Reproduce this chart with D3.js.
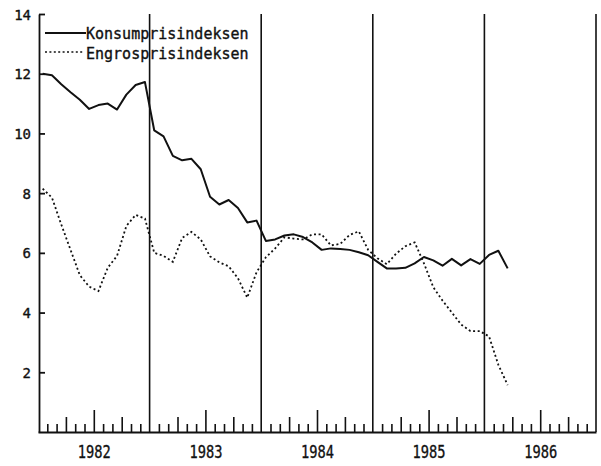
<!DOCTYPE html>
<html>
<head>
<meta charset="utf-8">
<script src="https://cdn.jsdelivr.net/npm/d3@7/dist/d3.min.js"></script>
<style>
  body { margin: 0; background: #fff; }
  text { font-family: "DejaVu Sans Mono", monospace; fill: #111; stroke: #111; stroke-width: 0.35px; }
</style>
</head>
<body>
<svg id="chart" width="601" height="466"></svg>
<script>
// Monthly twelve-month change (%), January 1982 – March 1986
const startYear = 1982;
const konsum = [
  12.0, 11.95, 11.65, 11.38, 11.13, 10.82, 10.95, 11.0, 10.8, 11.3, 11.62, 11.72,
  10.1, 9.9, 9.25, 9.1, 9.15, 8.8, 7.88, 7.62, 7.77, 7.5, 7.02, 7.08,
  6.4, 6.45, 6.58, 6.62, 6.53, 6.35, 6.1, 6.15, 6.13, 6.1, 6.02, 5.92,
  5.7, 5.48, 5.48, 5.5, 5.65, 5.86, 5.75, 5.57, 5.8, 5.58, 5.79, 5.63,
  5.93, 6.07, 5.48
];
const engros = [
  8.15, 7.85, 6.95, 6.1, 5.25, 4.87, 4.72, 5.5, 5.9, 6.9, 7.27, 7.15,
  6.0, 5.9, 5.7, 6.5, 6.7, 6.45, 5.88, 5.68, 5.55, 5.15, 4.5, 5.35,
  5.85, 6.15, 6.52, 6.48, 6.45, 6.62, 6.62, 6.25, 6.3, 6.6, 6.72, 6.1,
  5.82, 5.62, 5.97, 6.22, 6.35, 5.65, 4.85, 4.4, 4.0, 3.6, 3.38, 3.38,
  3.2, 2.25, 1.57
];
const seriesNames = ["Konsumprisindeksen", "Engrosprisindeksen"];
const yearLabels = [1982, 1983, 1984, 1985, 1986];
const yTicks = [2, 4, 6, 8, 10, 12, 14];

const svg = d3.select("#chart");
const x = d3.scaleLinear().domain([1982, 1987]).range([38, 596]);
const y = d3.scaleLinear().domain([0, 14]).range([432, 14]);

// month i plotted at the middle of its month
const t = i => startYear + (i + 0.5) / 12;

// vertical year separators
svg.append("g")
  .selectAll("line")
  .data([1983, 1984, 1985, 1986, 1987])
  .join("line")
  .attr("x1", d => x(d)).attr("x2", d => x(d))
  .attr("y1", y(14)).attr("y2", y(0))
  .attr("stroke", "#111").attr("stroke-width", 1.6);

// y axis, ticks pointing inwards
const yAxis = svg.append("g")
  .attr("transform", `translate(${x(1982) + 1},0)`)
  .call(d3.axisLeft(y).tickValues(yTicks).tickSize(-6).tickSizeOuter(0).tickPadding(8));
yAxis.selectAll("text").attr("font-size", 14).attr("dy", "0.36em")
  .style("font-family", "'DejaVu Sans Mono', monospace").attr("fill", "#111");
yAxis.selectAll("line, path").attr("stroke", "#111").attr("stroke-width", 1.8);

// x axis with monthly ticks: taller at quarters, tallest at mid-year
const monthTicks = d3.range(0, 60).filter(m => m % 12 !== 0).map(m => startYear + m / 12);
const xAxis = svg.append("g")
  .attr("transform", `translate(0,${y(0)})`)
  .call(d3.axisBottom(x).tickValues(monthTicks).tickFormat("").tickSize(-8).tickSizeOuter(0));
xAxis.selectAll(".tick line")
  .attr("y2", d => {
    const m = Math.round((d - startYear) * 12) % 12;
    return m === 6 ? -22 : (m === 3 || m === 9) ? -15 : -8;
  });
xAxis.selectAll("line, path").attr("stroke", "#111").attr("stroke-width", 1.6);
xAxis.select(".domain").attr("stroke-width", 2);

// year labels centred in each year
const yearAxis = svg.append("g")
  .attr("transform", `translate(0,${y(0)})`)
  .call(d3.axisBottom(x).tickValues(yearLabels.map(v => v + 0.5))
    .tickFormat(v => String(Math.floor(v))).tickSize(0).tickPadding(14));
yearAxis.select(".domain").remove();
yearAxis.selectAll("text")
  .attr("font-size", 17)
  .attr("textLength", 33).attr("lengthAdjust", "spacingAndGlyphs")
  .style("font-family", "'DejaVu Sans Mono', monospace").attr("fill", "#111");

// series lines
const line = d3.line().x((d, i) => x(t(i))).y(d => y(d));
svg.append("path").datum(engros)
  .attr("d", line).attr("fill", "none")
  .attr("stroke", "#111").attr("stroke-width", 1.8)
  .attr("stroke-dasharray", "2,2.6");
svg.append("path").datum(konsum)
  .attr("d", line).attr("fill", "none")
  .attr("stroke", "#111").attr("stroke-width", 2)
  .attr("stroke-linejoin", "round");

// legend
const legend = svg.append("g");
legend.append("line").attr("x1", 45).attr("x2", 86).attr("y1", 33).attr("y2", 33)
  .attr("stroke", "#111").attr("stroke-width", 2);
legend.append("line").attr("x1", 45).attr("x2", 84).attr("y1", 52).attr("y2", 52)
  .attr("stroke", "#111").attr("stroke-width", 1.6).attr("stroke-dasharray", "2,2.4");
legend.selectAll("text").data(seriesNames).join("text")
  .attr("x", 86).attr("y", (d, i) => 39 + i * 20)
  .attr("font-size", 15)
  .text(d => d);
</script>
</body>
</html>
